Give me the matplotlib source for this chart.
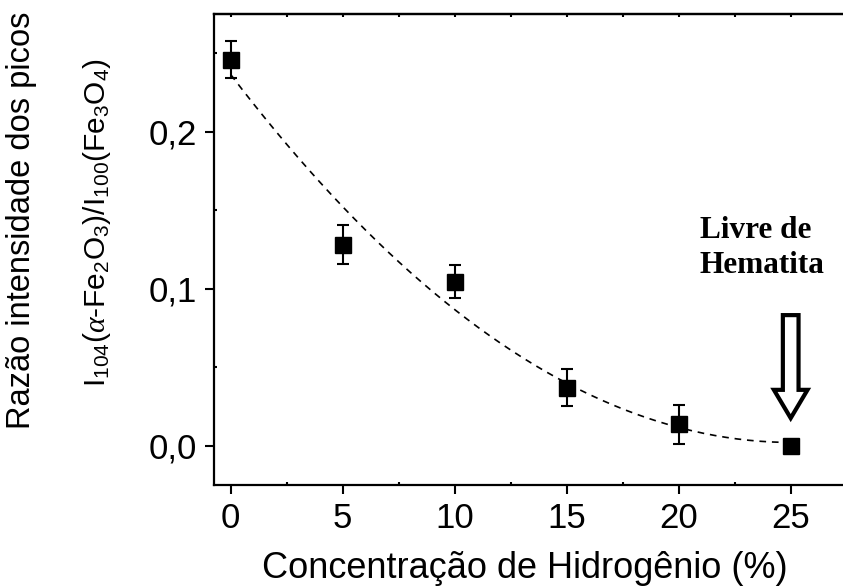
import matplotlib
matplotlib.use('Agg')
import matplotlib.pyplot as plt
import numpy as np
from matplotlib.patches import FancyArrow
from matplotlib.ticker import FuncFormatter, MultipleLocator

plt.rcParams['font.family'] = ['Liberation Sans', 'DejaVu Sans']
plt.rcParams['mathtext.fontset'] = 'custom'
plt.rcParams['mathtext.rm'] = 'Liberation Sans'
plt.rcParams['mathtext.it'] = 'Liberation Serif:italic'

# data
h2_conc = np.array([0, 5, 10, 15, 20, 25])
ratio = np.array([0.246, 0.128, 0.1045, 0.037, 0.0136, 0.0])
ratio_err = np.array([0.012, 0.0125, 0.0105, 0.012, 0.0123, 0.0])

fig = plt.figure(figsize=(8.43, 5.88), dpi=100)
ax = fig.add_axes([0.2542, 0.1752, 0.7502, 0.8018])

# fit curve (quadratic through the points)
coef = np.polyfit(h2_conc, ratio, 2)
xf = np.linspace(0, 25, 200)
ax.plot(xf, np.polyval(coef, xf), color='black', lw=1.2, ls=(0, (4, 3.5)), zorder=2)

ax.errorbar(h2_conc, ratio, yerr=ratio_err, fmt='s', color='black', ms=11.5,
            ecolor='black', elinewidth=1.5, capsize=4, capthick=1.5, zorder=3)

# hollow arrow pointing at the 25% point
arr = FancyArrow(25, 0.0832, 0, -0.0656, width=0.7, head_width=1.5,
                 head_length=0.018, length_includes_head=True,
                 fc='white', ec='black', lw=3, zorder=4)
ax.add_patch(arr)
ax.text(20.95, 0.126, 'Livre de\nHematita', ha='left', va='center',
        fontsize=22.5, fontweight='bold', family='Liberation Serif', linespacing=1.3)

ax.set_xlim(-0.73, 27.5)
ax.set_ylim(-0.025, 0.2753)
ax.xaxis.set_major_locator(MultipleLocator(5))
ax.xaxis.set_minor_locator(MultipleLocator(2.5))
ax.yaxis.set_major_locator(MultipleLocator(0.1))
ax.yaxis.set_minor_locator(MultipleLocator(0.05))
ax.yaxis.set_major_formatter(FuncFormatter(lambda v, p: f'{v:.1f}'.replace('.', ',')))

ax.tick_params(which='major', direction='out', length=6.5, width=1.5,
               labelsize=25, pad=6)
ax.tick_params(which='minor', direction='in', length=2.5, width=1.5)
for s in ax.spines.values():
    s.set_linewidth(1.6)

# small inward ticks on the top spine
top = ax.secondary_xaxis('top')
top.xaxis.set_major_locator(MultipleLocator(2.5))
top.tick_params(direction='in', length=2.5, width=1.5, labeltop=False)
top.spines['top'].set_linewidth(1.6)

fig.text(525 / 843, 1 - 568 / 588, 'Concentração de Hidrogênio (%)', ha='center',
         va='center', fontsize=26)
fig.text(22 / 843, 1 - 220 / 588, 'Razão intensidade dos picos', rotation=90,
         ha='center', va='center', fontsize=23.5)
fig.text(97 / 843, 1 - 223 / 588,
         r'$\mathrm{I}_{104}(\alpha\mathrm{\text{-}Fe}_2\mathrm{O}_3)/\mathrm{I}_{100}(\mathrm{Fe}_3\mathrm{O}_4)$',
         rotation=90, ha='center', va='center', fontsize=21.5)

fig.savefig('out.png', dpi=100)
